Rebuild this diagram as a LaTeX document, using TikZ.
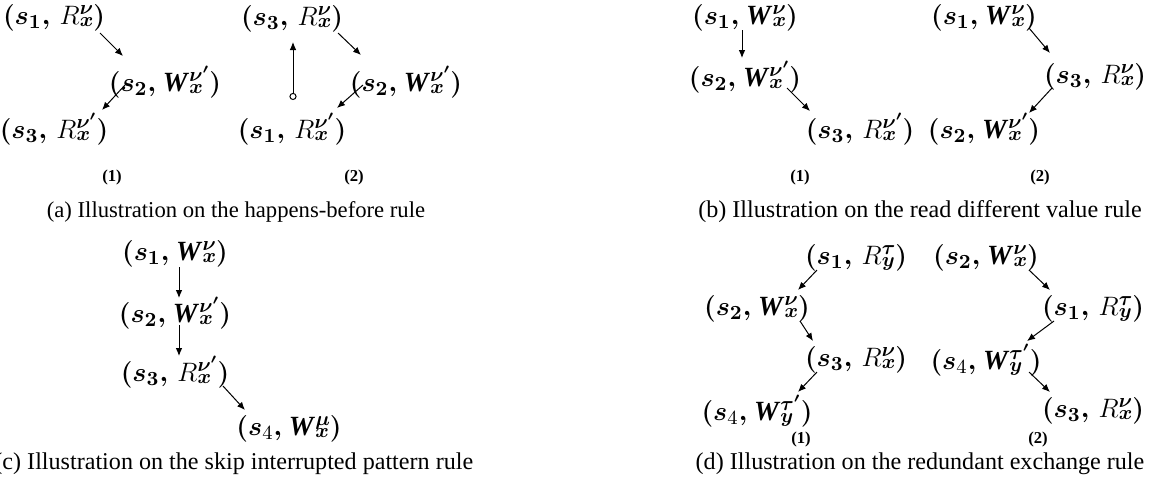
\documentclass[tikz,border=0pt]{standalone}
\usepackage{amsmath}
\usepackage[no-math]{fontspec}
\newfontfamily\capfont{Liberation Serif}
\usetikzlibrary{arrows.meta}
\newcommand{\nb}[1]{\text{\unboldmath$#1$}}
\newcommand{\scr}[2]{\mathord{\setbox0=\hbox{$\scriptstyle#1$}\setbox2=\hbox{$\scriptstyle#2$}%
  \dimen0=\wd0 \ifdim\wd2>\dimen0 \dimen0=\wd2 \fi
  \hbox to\dimen0{\rlap{\raise4.6pt\box0}\lower1pt\box2\hss}}}
\newcommand{\Wb}{\text{\capfont\bfseries\itshape W}}
% read events: plain R; write events: bold W
\newcommand{\rev}[3]{$(s_{#1},\mkern2.5mu\nb{R}\scr{#2}{#3})$}
\newcommand{\wev}[3]{$(s_{#1},\mkern1mu\Wb\mkern1mu\scr{#2}{#3})$}
\begin{document}
\begin{tikzpicture}[x=0.45pt,y=-0.45pt,
  ev/.style={inner sep=0pt,font=\fontsize{12.5}{15}\selectfont\boldmath},
  arr/.style={line width=0.45pt,-{Latex[length=3.6pt,width=3pt]}},
  sublab/.style={inner sep=0pt,font=\capfont\bfseries\fontsize{7.5}{9}\selectfont},
  captext/.style={inner sep=0pt,font=\capfont\fontsize{10.85}{13}\selectfont}]
\useasboundingbox (0,0) rectangle (1153,489);
% (a)(1)
\node[ev] (a1) at (54,18) {\rev{1}{\nu}{x}};
\node[ev] (a2) at (165,82) {\wev{2}{\nu'}{x}};
\node[ev] (a3) at (54,129) {\rev{3}{\nu'}{x}};
\draw[arr] ([shift={(46,15)}]a1.center) -- ([shift={(-42,-26)}]a2.center);
\draw[arr] ([shift={(-40,3)}]a2.center) -- ([shift={(48,-19)}]a3.center);
\node[sublab] (l1) at (112,177) {(1)};
% (a)(2)
\node[ev] (b1) at (292,19) {\rev{3}{\nu}{x}};
\node[ev] (b2) at (406,82) {\wev{2}{\nu'}{x}};
\node[ev] (b3) at (292,129) {\rev{1}{\nu'}{x}};
\draw[arr] ([shift={(46,14)}]b1.center) -- ([shift={(-45,-27)}]b2.center);
\draw[arr] ([shift={(-43,3)}]b2.center) -- ([shift={(45,-21)}]b3.center);
\draw[line width=0.45pt,{Circle[open,length=3.2pt,width=3.2pt]}-{Latex[length=3.6pt,width=3pt]}] ([shift={(1,-29)}]b3.center) -- ([shift={(1,23)}]b1.center);
\node[sublab] (l2) at (354,177) {(2)};
\node[captext,font=\capfont\fontsize{10.2}{12}\selectfont] (ca) at (236,212) {(a) Illustration on the happens-before rule};
% (b)(1)
\node[ev] (c1) at (745,18) {\wev{1}{\nu}{x}};
\node[ev] (c2) at (745,77) {\wev{2}{\nu'}{x}};
\node[ev] (c3) at (860,129) {\rev{3}{\nu'}{x}};
\draw[arr] ([shift={(-3,12)}]c1.center) -- ([shift={(-3,-19)}]c2.center);
\draw[arr] ([shift={(42,11)}]c2.center) -- ([shift={(-50,-18)}]c3.center);
\node[sublab] (l3) at (800,177) {(1)};
% (b)(2)
\node[ev] (d1) at (984,18) {\wev{1}{\nu}{x}};
\node[ev] (d2) at (1095,77) {\rev{3}{\nu}{x}};
\node[ev] (d3) at (984,129) {\wev{2}{\nu'}{x}};
\draw[arr] ([shift={(45,10)}]d1.center) -- ([shift={(-45,-24)}]d2.center);
\draw[arr] ([shift={(-43,11)}]d2.center) -- ([shift={(45,-16)}]d3.center);
\node[sublab] (l4) at (1040,177) {(2)};
\node[captext] (cb) at (920,212) {(b) Illustration on the read different value rule};
% (c)
\node[ev] (e1) at (175,254) {\wev{1}{\nu}{x}};
\node[ev] (e2) at (175,313) {\wev{2}{\nu'}{x}};
\node[ev] (e3) at (175,372) {\rev{3}{\nu'}{x}};
\node[ev] (e4) at (289,429) {\wev{\nb{4}}{\mu}{x}};
\draw[arr] ([shift={(4,13)}]e1.center) -- ([shift={(4,-15)}]e2.center);
\draw[arr] ([shift={(4,12)}]e2.center) -- ([shift={(4,-16)}]e3.center);
\draw[arr] ([shift={(48,14)}]e3.center) -- ([shift={(-44,-19)}]e4.center);
\node[captext,anchor=west] (cc) at (-6,464) {(c) Illustration on the skip interrupted pattern rule};
% (d)(1)
\node[ev] (f1) at (856,258) {\rev{1}{\tau}{y}};
\node[ev] (f2) at (757,309) {\wev{2}{\nu}{x}};
\node[ev] (f3) at (856,360) {\rev{3}{\nu}{x}};
\node[ev] (f4) at (757,411) {\wev{\nb{4}}{\tau'}{y}};
\draw[arr] ([shift={(-39,12)}]f1.center) -- ([shift={(41,-19)}]f2.center);
\draw[arr] ([shift={(43,12)}]f2.center) -- ([shift={(-43,-19)}]f3.center);
\draw[arr] ([shift={(-39,12)}]f3.center) -- ([shift={(41,-19)}]f4.center);
\node[sublab] (l5) at (801,439) {(1)};
% (d)(2)
\node[ev] (g1) at (986,258) {\wev{2}{\nu}{x}};
\node[ev] (g2) at (1093,309) {\rev{1}{\tau}{y}};
\node[ev] (g3) at (986,360) {\wev{\nb{4}}{\tau'}{y}};
\node[ev] (g4) at (1093,411) {\rev{3}{\nu}{x}};
\draw[arr] ([shift={(43,12)}]g1.center) -- ([shift={(-43,-19)}]g2.center);
\draw[arr] ([shift={(-39,12)}]g2.center) -- ([shift={(41,-19)}]g3.center);
\draw[arr] ([shift={(43,12)}]g3.center) -- ([shift={(-43,-19)}]g4.center);
\node[sublab] (l6) at (1038,439) {(2)};
\node[captext] (cd) at (920,464) {(d) Illustration on the redundant exchange rule};
\end{tikzpicture}
\end{document}
